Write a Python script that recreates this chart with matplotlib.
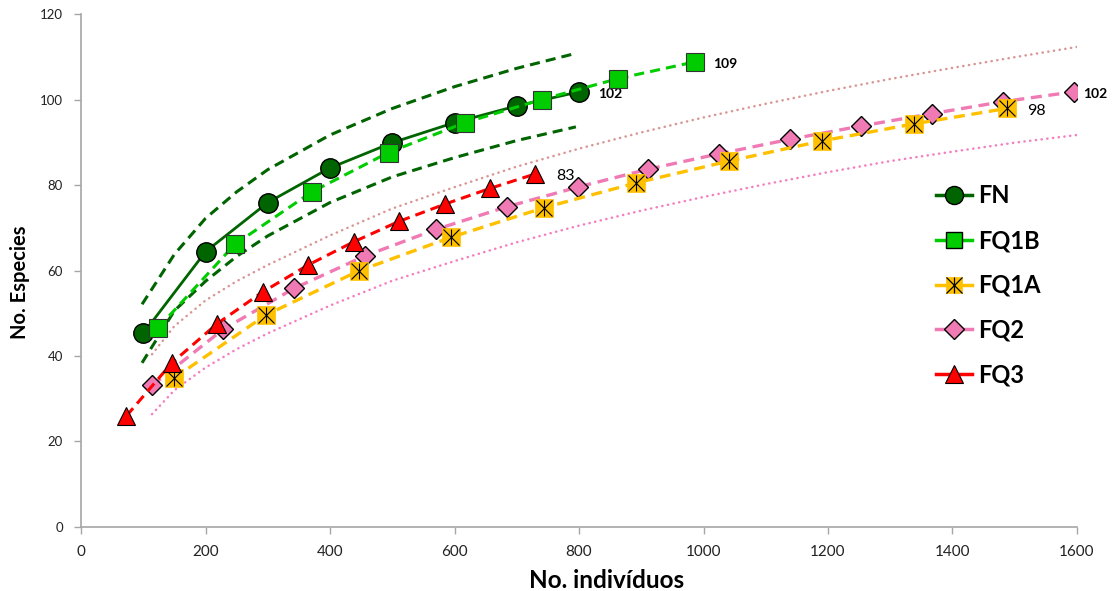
import matplotlib
matplotlib.use('Agg')
import matplotlib.pyplot as plt
from matplotlib.lines import Line2D
from matplotlib.legend_handler import HandlerTuple

plt.rcParams['font.family'] = ['Lato', 'DejaVu Sans']

# ---------------- data ----------------
fn_x = [100, 200, 300, 400, 500, 600, 700, 800]
fn_y = [45.3, 64.4, 75.9, 84.0, 89.9, 94.6, 98.5, 101.8]
fn_ci_x = [98, 150, 200, 250, 300, 400, 500, 600, 700, 795]
fn_upper = [52.1, 63.8, 72.2, 78.4, 83.6, 91.7, 97.9, 103.0, 107.3, 110.8]
fn_lower = [38.4, 50.6, 57.5, 63.3, 68.1, 75.9, 81.9, 86.4, 90.4, 93.6]

fq1b_x = [124, 247, 371, 494, 617, 740, 863, 986]
fq1b_y = [46.6, 66.1, 78.4, 87.6, 94.6, 100.0, 104.9, 108.8]

fq1a_x = [149, 297, 446, 595, 744, 892, 1041, 1190, 1338, 1487]
fq1a_y = [34.8, 49.6, 59.9, 67.8, 74.7, 80.5, 85.6, 90.3, 94.3, 97.9]

fq2_x = [114, 228, 342, 456, 570, 684, 798, 911, 1025, 1139, 1253, 1367, 1481, 1595]
fq2_y = [33.1, 46.2, 55.8, 63.4, 69.6, 74.9, 79.5, 83.7, 87.3, 90.7, 93.8, 96.7, 99.5, 101.8]

fq3_x = [73, 146, 219, 292, 365, 438, 511, 584, 657, 730]
fq3_y = [26.0, 38.4, 47.6, 55.0, 61.3, 66.7, 71.5, 75.5, 79.2, 82.6]

fq2_ci_x = [114, 150, 200, 250, 300, 400, 500, 600, 700, 800, 900, 1000, 1100, 1200, 1300, 1400, 1500, 1600]
fq2_upper = [40.4, 47.0, 53.0, 57.5, 61.3, 68.2, 74.5, 79.5, 84.3, 88.5, 92.3, 95.8, 99.0, 102.0, 104.8, 107.4, 109.9, 112.3]
fq2_lower = [26.4, 32.0, 37.3, 41.6, 45.3, 51.8, 57.6, 62.2, 66.6, 70.5, 74.0, 77.2, 80.2, 83.0, 85.6, 87.8, 89.9, 91.7]

labels = ['FN', 'FQ1B', 'FQ1A', 'FQ2', 'FQ3']
end_labels = {'FN': '102', 'FQ1B': '109', 'FQ1A': '98', 'FQ2': '102', 'FQ3': '83'}

# ---------------- colours ----------------
c_fn = '#006400'
c_fq1b = '#00cc00'
c_fq1a = '#ffc000'
c_fq2 = '#f07ab4'
c_fq3 = '#ff0000'
c_up = '#d99694'
c_lo = '#f57ec0'

fig = plt.figure(figsize=(11.18, 5.91), dpi=100)
ax = fig.add_axes([0.0725, 0.1083, 0.8908, 0.868])

dash = (3.3, 2.0)
dot = (0.1, 2.2)

# confidence curves
ax.plot(fn_ci_x, fn_upper, color=c_fn, lw=2.2, dashes=dash, zorder=2)
ax.plot(fn_ci_x, fn_lower, color=c_fn, lw=2.2, dashes=dash, zorder=2)
ax.plot(fq2_ci_x, fq2_upper, color=c_up, lw=1.8, dashes=dot, dash_capstyle='round', zorder=2)
ax.plot(fq2_ci_x, fq2_lower, color=c_lo, lw=1.8, dashes=dot, dash_capstyle='round', zorder=2)

# series
ax.plot(fn_x, fn_y, color=c_fn, lw=2.0, marker='o', ms=14, mfc=c_fn, mec='black', mew=1, zorder=3)
ax.plot(fq1b_x, fq1b_y, color=c_fq1b, lw=2.2, dashes=dash, marker='s', ms=12.5,
        mfc=c_fq1b, mec='#333333', mew=0.8, zorder=4)
ax.plot(fq2_x, fq2_y, color=c_fq2, lw=2.4, dashes=dash, marker='D', ms=10.5,
        mfc=c_fq2, mec='black', mew=1, zorder=5)
ax.plot(fq1a_x, fq1a_y, color=c_fq1a, lw=2.4, dashes=dash, marker='s', ms=12.5,
        mfc=c_fq1a, mec=c_fq1a, mew=0.5, zorder=6)
ax.plot(fq1a_x, fq1a_y, ls='none', marker='x', ms=12, mec='black', mew=0.8, zorder=6.1)
ax.plot(fq1a_x, fq1a_y, ls='none', marker='|', ms=12, mec='black', mew=0.8, zorder=6.1)
ax.plot(fq3_x, fq3_y, color=c_fq3, lw=2.2, dashes=dash, marker='^', ms=13,
        mfc=c_fq3, mec='black', mew=0.8, zorder=7)

# end labels
ax.annotate(end_labels['FN'], (fn_x[-1], fn_y[-1]), xytext=(14, -1.5), textcoords='offset points',
            fontsize=10, fontweight='bold', va='center', ha='left')
ax.annotate(end_labels['FQ1B'], (fq1b_x[-1], fq1b_y[-1]), xytext=(13, -1.5), textcoords='offset points',
            fontsize=10, fontweight='bold', va='center', ha='left')
ax.annotate(end_labels['FQ3'], (fq3_x[-1], fq3_y[-1]), xytext=(15, -1.5), textcoords='offset points',
            fontsize=11.5, va='center', ha='left')
ax.annotate(end_labels['FQ1A'], (fq1a_x[-1], fq1a_y[-1]), xytext=(15, -2), textcoords='offset points',
            fontsize=11.5, va='center', ha='left')
ax.annotate(end_labels['FQ2'], (fq2_x[-1], fq2_y[-1]), xytext=(7, -1.5), textcoords='offset points',
            fontsize=10, fontweight='bold', va='center', ha='left')

# axes
ax.set_xlim(0, 1600)
ax.set_ylim(0, 120)
ax.set_xticks(range(0, 1601, 200))
ax.set_yticks(range(0, 121, 20))
for s in ['top', 'right']:
    ax.spines[s].set_visible(False)
for s in ['left', 'bottom']:
    ax.spines[s].set_color('#a6a6a6')
    ax.spines[s].set_linewidth(1.2)
ax.tick_params(axis='both', color='#a6a6a6', length=5, width=1.0, direction='out')
ax.tick_params(axis='x', labelsize=11, pad=8, labelcolor='#222222')
ax.tick_params(axis='y', labelsize=9.5, pad=8, labelcolor='#222222')
ax.set_xlabel('No. indivíduos', fontsize=17.5, fontweight='bold')
ax.xaxis.set_label_coords(0.528, -0.082)
ax.set_ylabel('No. Especies', fontsize=14.5, fontweight='bold')
ax.yaxis.set_label_coords(-0.051, 0.478)

# legend
h_fn = Line2D([], [], color=c_fn, lw=2.5, marker='o', ms=13, mfc=c_fn, mec='black', mew=1)
h_fq1b = Line2D([], [], color=c_fq1b, lw=2.5, marker='s', ms=12, mfc=c_fq1b, mec='black', mew=1)
h_fq1a_a = Line2D([], [], color=c_fq1a, lw=2.5, marker='s', ms=12, mfc=c_fq1a, mec=c_fq1a, mew=0.5)
h_fq1a_b = Line2D([], [], ls='none', marker='x', ms=12, mec='black', mew=0.9)
h_fq1a_c = Line2D([], [], ls='none', marker='|', ms=12, mec='black', mew=0.9)
h_fq2 = Line2D([], [], color=c_fq2, lw=2.5, marker='D', ms=10, mfc=c_fq2, mec='black', mew=1)
h_fq3 = Line2D([], [], color=c_fq3, lw=2.5, marker='^', ms=13, mfc=c_fq3, mec='black', mew=0.8)
fig.legend([h_fn, h_fq1b, (h_fq1a_a, h_fq1a_b, h_fq1a_c), h_fq2, h_fq3], labels,
           handler_map={tuple: HandlerTuple(ndivide=1, pad=0)},
           loc='upper left', bbox_to_anchor=(0.837, 0.688), frameon=False,
           prop={'size': 17, 'weight': 'bold'}, handlelength=1.55, handletextpad=0.25,
           labelspacing=0.92, borderpad=0, borderaxespad=0)

fig.savefig('out.png', dpi=100)
